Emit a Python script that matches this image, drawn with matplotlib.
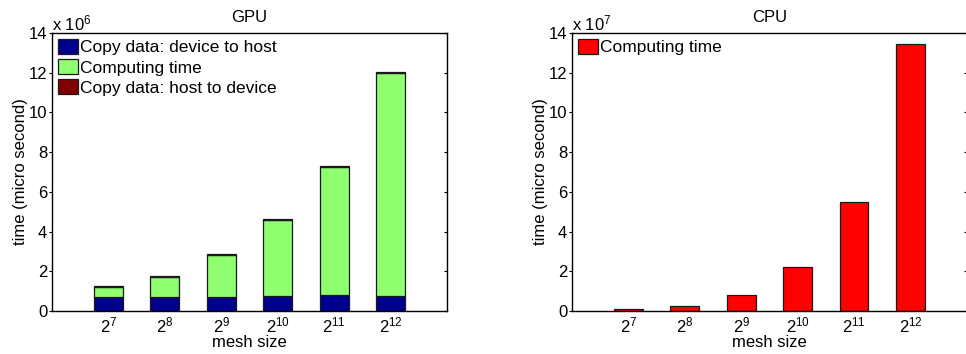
import numpy as np
import matplotlib
matplotlib.use("Agg")
import matplotlib.pyplot as plt
from matplotlib import lines as mlines

plt.rcParams['font.family'] = ['Liberation Sans', 'DejaVu Sans']
plt.rcParams['mathtext.fontset'] = 'custom'
plt.rcParams['mathtext.rm'] = 'Liberation Sans'
plt.rcParams['mathtext.it'] = 'Liberation Sans:italic'

mesh_exp = [7, 8, 9, 10, 11, 12]

# GPU timings, in units of 1e6 micro seconds
gpu_dev_to_host = [0.71, 0.71, 0.71, 0.76, 0.79, 0.74]
gpu_total = [1.28, 1.78, 2.87, 4.64, 7.29, 12.05]
gpu_host_to_dev = [0.05, 0.05, 0.05, 0.05, 0.05, 0.05]

# CPU timings, in units of 1e7 micro seconds
cpu_compute = [0.09, 0.27, 0.79, 2.20, 5.51, 13.46]

gpu_compute = [t - a - b for t, a, b in zip(gpu_total, gpu_dev_to_host, gpu_host_to_dev)]

c_blue = '#00008f'
c_green = '#8fff70'
c_dred = '#800000'
c_red = '#ff0000'
edge = '#1a1a1a'
FS = 12


def style_axes(ax, title, exponent):
    ax.set_xlim(0, 7)
    ax.set_ylim(0, 14)
    ax.set_xticks(np.arange(1, 7))
    ax.set_xticklabels([r'$\mathregular{2^{%d}}$' % e for e in mesh_exp], fontsize=FS)
    ax.set_yticks(np.arange(0, 15, 2))
    ax.tick_params(axis='x', length=0, pad=3)
    ax.tick_params(axis='y', which='both', direction='out', length=2.2, labelsize=FS,
                   right=True, pad=1.2)
    # right-hand ticks point inward
    for t in ax.yaxis.get_major_ticks():
        t.tick2line.set_marker(mlines.TICKLEFT)
    for sp in ax.spines.values():
        sp.set_linewidth(1.0)
    ax.set_title(title, fontsize=FS, pad=8)
    ax.set_xlabel('mesh size', fontsize=FS)
    ax.xaxis.set_label_coords(0.5, -0.088)
    ax.set_ylabel('time (micro second)', fontsize=FS)
    ax.yaxis.set_label_coords(-0.061, 0.5)
    ax.text(0.0, 1.008, r'x 10$^{%d}$' % exponent, transform=ax.transAxes,
            ha='left', va='baseline', fontsize=FS)


fig = plt.figure(figsize=(9.66, 3.54), dpi=100)
ax1 = fig.add_axes([0.0538, 0.1215, 0.4089, 0.785])
ax2 = fig.add_axes([0.592, 0.1215, 0.4089, 0.785])

x = np.arange(1, 7)
w = 0.51
leg_kw = dict(loc='upper left', frameon=False, fontsize=12.5, handlelength=1.15,
              handleheight=0.95, handletextpad=0.12, labelspacing=0.22,
              borderpad=0.0, borderaxespad=0.33)

ax1.bar(x, gpu_dev_to_host, w, color=c_blue, edgecolor=edge, linewidth=0.9,
        label='Copy data: device to host')
ax1.bar(x, gpu_compute, w, bottom=gpu_dev_to_host, color=c_green, edgecolor=edge,
        linewidth=0.9, label='Computing time')
ax1.bar(x, gpu_host_to_dev, w, bottom=np.add(gpu_dev_to_host, gpu_compute),
        color=c_dred, edgecolor=edge, linewidth=0.9, label='Copy data: host to device')
style_axes(ax1, 'GPU', 6)
ax1.legend(**leg_kw)

ax2.bar(x, cpu_compute, w, color=c_red, edgecolor=edge, linewidth=0.9,
        label='Computing time')
style_axes(ax2, 'CPU', 7)
ax2.legend(**leg_kw)

fig.savefig('out.png', dpi=100)
